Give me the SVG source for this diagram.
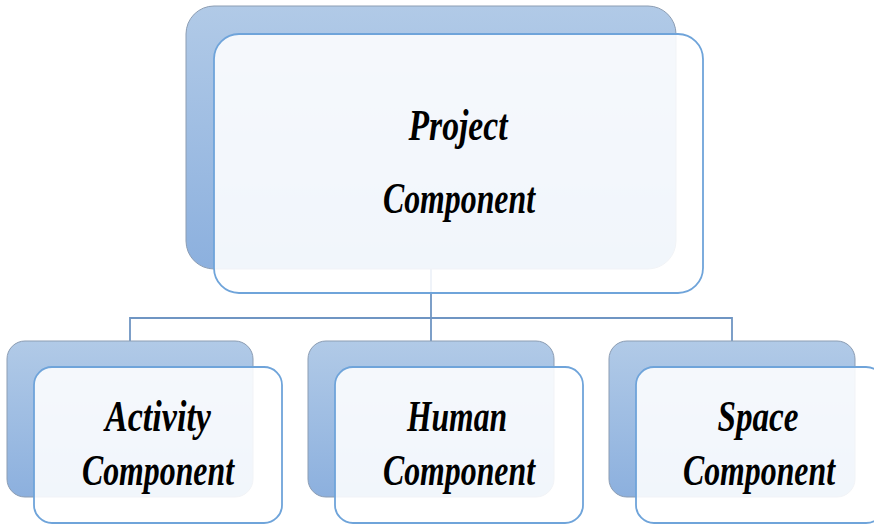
<svg xmlns="http://www.w3.org/2000/svg" width="874" height="524" viewBox="0 0 874 524">
<defs>
<linearGradient id="bg" x1="0" y1="0" x2="0" y2="1">
<stop offset="0" stop-color="#b1cae7"/>
<stop offset="1" stop-color="#8cb0de"/>
</linearGradient>
<style>
.back{fill:url(#bg);stroke:#8c9db3;stroke-width:1}
.front{fill:#ffffff;fill-opacity:0.88;stroke:#6fa4da;stroke-width:1.8}
.conn{fill:none;stroke:#6f95c3;stroke-width:1.8}
.lbl{font-family:"Liberation Serif",serif;font-style:italic;font-weight:bold;font-size:44px;fill:#000;text-anchor:middle}
</style>
</defs>
<rect width="874" height="524" fill="#ffffff"/>
<g id="connectors">
<path class="conn" d="M431 269 V318 M130 341 V318 H732 V341 M431 318 V341"/>
</g>
<g id="project">
<rect class="back" x="186" y="6" width="490" height="263" rx="28"/>
<rect class="front" x="214" y="34" width="489" height="259" rx="25"/>
<text class="lbl" x="458" y="140" textLength="99" lengthAdjust="spacingAndGlyphs">Project</text>
<text class="lbl" x="459" y="213" textLength="152" lengthAdjust="spacingAndGlyphs">Component</text>
</g>
<g id="activity">
<rect class="back" x="7" y="341" width="246" height="156" rx="18"/>
<rect class="front" x="34" y="367" width="248" height="156" rx="18"/>
<text class="lbl" x="158" y="431" textLength="106" lengthAdjust="spacingAndGlyphs">Activity</text>
<text class="lbl" x="158" y="485" textLength="152" lengthAdjust="spacingAndGlyphs">Component</text>
</g>
<g id="human">
<rect class="back" x="308" y="341" width="246" height="156" rx="18"/>
<rect class="front" x="335" y="367" width="248" height="156" rx="18"/>
<text class="lbl" x="457" y="431" textLength="100" lengthAdjust="spacingAndGlyphs">Human</text>
<text class="lbl" x="459" y="485" textLength="152" lengthAdjust="spacingAndGlyphs">Component</text>
</g>
<g id="space">
<rect class="back" x="609" y="341" width="246" height="156" rx="18"/>
<rect class="front" x="636" y="367" width="248" height="156" rx="18"/>
<text class="lbl" x="758" y="431" textLength="81" lengthAdjust="spacingAndGlyphs">Space</text>
<text class="lbl" x="759" y="485" textLength="152" lengthAdjust="spacingAndGlyphs">Component</text>
</g>
</svg>
